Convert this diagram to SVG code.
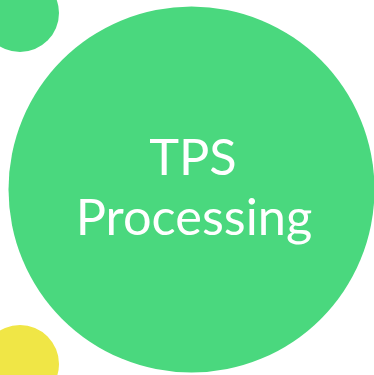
<svg xmlns="http://www.w3.org/2000/svg" width="374" height="375" viewBox="0 0 374 375">
<style>
.green{fill:#4AD87E}
.yellow{fill:#F0E646}
.lbl{fill:#FFFFFF;font-family:Lato,"Open Sans","Liberation Sans",sans-serif;font-size:50.5px;text-anchor:middle}
</style>
<rect width="374" height="375" fill="#FFFFFF"/>
<g id="dot-top-left"><circle class="green" cx="20" cy="13" r="39"/></g>
<g id="dot-bottom-left"><circle class="yellow" cx="20" cy="364" r="39"/></g>
<g id="tps-processing">
<circle class="green" cx="191.5" cy="189.5" r="183"/>
<text class="lbl" x="193" y="175">TPS</text>
<text class="lbl" x="194" y="235">Processing</text>
</g>
<g id="connectors"/>
</svg>
